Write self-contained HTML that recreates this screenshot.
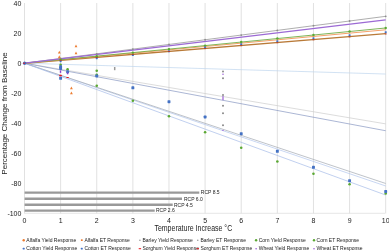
<!DOCTYPE html>
<html><head><meta charset="utf-8"><style>html,body{margin:0;padding:0;background:#fff;width:389px;height:252px;overflow:hidden}svg{display:block;will-change:transform}</style></head>
<body><svg width="389" height="252" viewBox="0 0 389 252">
<rect width="389" height="252" fill="#fff"/>
<line x1="24.50" y1="3" x2="24.50" y2="213.5" stroke="#dedede" stroke-width="0.9"/>
<line x1="60.62" y1="3" x2="60.62" y2="213.5" stroke="#dedede" stroke-width="0.9"/>
<line x1="96.74" y1="3" x2="96.74" y2="213.5" stroke="#dedede" stroke-width="0.9"/>
<line x1="132.86" y1="3" x2="132.86" y2="213.5" stroke="#dedede" stroke-width="0.9"/>
<line x1="168.98" y1="3" x2="168.98" y2="213.5" stroke="#dedede" stroke-width="0.9"/>
<line x1="205.10" y1="3" x2="205.10" y2="213.5" stroke="#dedede" stroke-width="0.9"/>
<line x1="241.22" y1="3" x2="241.22" y2="213.5" stroke="#dedede" stroke-width="0.9"/>
<line x1="277.34" y1="3" x2="277.34" y2="213.5" stroke="#dedede" stroke-width="0.9"/>
<line x1="313.46" y1="3" x2="313.46" y2="213.5" stroke="#dedede" stroke-width="0.9"/>
<line x1="349.58" y1="3" x2="349.58" y2="213.5" stroke="#dedede" stroke-width="0.9"/>
<line x1="385.70" y1="3" x2="385.70" y2="213.5" stroke="#dedede" stroke-width="0.9"/>
<line x1="24.5" y1="213.3" x2="385" y2="213.3" stroke="#e0e0e0" stroke-width="0.8"/>
<text x="21.4" y="5.60" text-anchor="end" font-size="7" fill="#1a1a1a" font-family="Liberation Sans, sans-serif">40</text>
<text x="21.4" y="35.60" text-anchor="end" font-size="7" fill="#1a1a1a" font-family="Liberation Sans, sans-serif">20</text>
<text x="21.4" y="65.60" text-anchor="end" font-size="7" fill="#1a1a1a" font-family="Liberation Sans, sans-serif">0</text>
<text x="21.4" y="95.60" text-anchor="end" font-size="7" fill="#1a1a1a" font-family="Liberation Sans, sans-serif">-20</text>
<text x="21.4" y="125.60" text-anchor="end" font-size="7" fill="#1a1a1a" font-family="Liberation Sans, sans-serif">-40</text>
<text x="21.4" y="155.60" text-anchor="end" font-size="7" fill="#1a1a1a" font-family="Liberation Sans, sans-serif">-60</text>
<text x="21.4" y="185.60" text-anchor="end" font-size="7" fill="#1a1a1a" font-family="Liberation Sans, sans-serif">-80</text>
<text x="21.4" y="215.60" text-anchor="end" font-size="7" fill="#1a1a1a" font-family="Liberation Sans, sans-serif">-100</text>
<text x="24.50" y="222.6" text-anchor="middle" font-size="7" fill="#1a1a1a" font-family="Liberation Sans, sans-serif">0</text>
<text x="60.62" y="222.6" text-anchor="middle" font-size="7" fill="#1a1a1a" font-family="Liberation Sans, sans-serif">1</text>
<text x="96.74" y="222.6" text-anchor="middle" font-size="7" fill="#1a1a1a" font-family="Liberation Sans, sans-serif">2</text>
<text x="132.86" y="222.6" text-anchor="middle" font-size="7" fill="#1a1a1a" font-family="Liberation Sans, sans-serif">3</text>
<text x="168.98" y="222.6" text-anchor="middle" font-size="7" fill="#1a1a1a" font-family="Liberation Sans, sans-serif">4</text>
<text x="205.10" y="222.6" text-anchor="middle" font-size="7" fill="#1a1a1a" font-family="Liberation Sans, sans-serif">5</text>
<text x="241.22" y="222.6" text-anchor="middle" font-size="7" fill="#1a1a1a" font-family="Liberation Sans, sans-serif">6</text>
<text x="277.34" y="222.6" text-anchor="middle" font-size="7" fill="#1a1a1a" font-family="Liberation Sans, sans-serif">7</text>
<text x="313.46" y="222.6" text-anchor="middle" font-size="7" fill="#1a1a1a" font-family="Liberation Sans, sans-serif">8</text>
<text x="349.58" y="222.6" text-anchor="middle" font-size="7" fill="#1a1a1a" font-family="Liberation Sans, sans-serif">9</text>
<text x="385.70" y="222.6" text-anchor="middle" font-size="7" fill="#1a1a1a" font-family="Liberation Sans, sans-serif">10</text>
<text transform="translate(154.4,230.7) scale(0.1)" font-size="84" textLength="778" lengthAdjust="spacingAndGlyphs" fill="#1a1a1a" font-family="Liberation Sans, sans-serif">Temperature Increase °C</text>
<text transform="translate(7.3,113.5) rotate(-90)" text-anchor="middle" font-size="8" fill="#1a1a1a" font-family="Liberation Sans, sans-serif">Percentage Change from Baseline</text>
<line x1="24.6" y1="192.6" x2="199.3" y2="192.6" stroke="#999" stroke-width="2.4"/>
<text x="200.8" y="194.40" font-size="5" fill="#1a1a1a" font-family="Liberation Sans, sans-serif">RCP 8.5</text>
<line x1="24.6" y1="198.8" x2="182" y2="198.8" stroke="#999" stroke-width="2.4"/>
<text x="184.0" y="200.60" font-size="5" fill="#1a1a1a" font-family="Liberation Sans, sans-serif">RCP 6.0</text>
<line x1="24.6" y1="204.7" x2="172.7" y2="204.7" stroke="#999" stroke-width="2.4"/>
<text x="174.0" y="206.50" font-size="5" fill="#1a1a1a" font-family="Liberation Sans, sans-serif">RCP 4.5</text>
<line x1="24.6" y1="210.6" x2="154.7" y2="210.6" stroke="#999" stroke-width="2.4"/>
<text x="156.0" y="212.40" font-size="5" fill="#1a1a1a" font-family="Liberation Sans, sans-serif">RCP 2.6</text>
<line x1="24.5" y1="63.2" x2="385.7" y2="74.04" stroke="#bfd5ee" stroke-width="0.7" opacity="1"/>
<line x1="24.5" y1="63.2" x2="385.7" y2="123.88" stroke="#cdcdcd" stroke-width="0.7" opacity="1"/>
<line x1="24.5" y1="63.2" x2="385.7" y2="130.74" stroke="#8797c2" stroke-width="0.7" opacity="1"/>
<line x1="24.5" y1="63.2" x2="385.7" y2="186.01" stroke="#b1c5ec" stroke-width="0.7" opacity="1"/>
<line x1="24.5" y1="63.2" x2="385.7" y2="183.48" stroke="#a4a9b2" stroke-width="0.7" opacity="1"/>
<line x1="24.5" y1="63.2" x2="385.7" y2="195.04" stroke="#a6bce8" stroke-width="0.7" opacity="1"/>
<line x1="24.5" y1="63.2" x2="385.7" y2="33.58" stroke="#b97a38" stroke-width="1.4" opacity="1"/>
<line x1="24.5" y1="63.2" x2="385.7" y2="29.79" stroke="#f39659" stroke-width="0.9" opacity="1"/>
<line x1="24.5" y1="63.2" x2="385.7" y2="27.98" stroke="#70ad47" stroke-width="0.9" opacity="1"/>
<line x1="24.5" y1="63.2" x2="385.7" y2="16.32" stroke="#a5a5a5" stroke-width="0.9" opacity="1"/>
<line x1="24.5" y1="63.2" x2="385.7" y2="19.86" stroke="#9c6ad4" stroke-width="1.3" opacity="1"/>
<circle cx="60.62" cy="58.51" r="0.9" fill="#8c8c8c"/>
<circle cx="60.62" cy="59.68" r="1.2" fill="#5aa832"/>
<rect x="59.62" y="60.21" width="2.0" height="2.0" rx="0.40" fill="#4472c4"/>
<rect x="59.72" y="59.77" width="1.8" height="1.0" fill="#c23a1e"/>
<circle cx="96.74" cy="53.82" r="0.9" fill="#8c8c8c"/>
<circle cx="96.74" cy="56.16" r="1.2" fill="#5aa832"/>
<rect x="95.74" y="57.25" width="2.0" height="2.0" rx="0.40" fill="#4472c4"/>
<rect x="95.84" y="56.85" width="1.8" height="1.0" fill="#c23a1e"/>
<circle cx="132.86" cy="49.13" r="0.9" fill="#8c8c8c"/>
<circle cx="132.86" cy="52.63" r="1.2" fill="#5aa832"/>
<rect x="131.86" y="54.10" width="2.0" height="2.0" rx="0.40" fill="#4472c4"/>
<rect x="131.96" y="53.92" width="1.8" height="1.0" fill="#c23a1e"/>
<circle cx="168.98" cy="44.45" r="0.9" fill="#8c8c8c"/>
<circle cx="168.98" cy="49.11" r="1.2" fill="#5aa832"/>
<rect x="167.98" y="50.35" width="2.0" height="2.0" rx="0.40" fill="#4472c4"/>
<rect x="168.08" y="51.00" width="1.8" height="1.0" fill="#c23a1e"/>
<circle cx="205.10" cy="39.76" r="0.9" fill="#8c8c8c"/>
<circle cx="205.10" cy="45.59" r="1.2" fill="#5aa832"/>
<rect x="204.10" y="46.45" width="2.0" height="2.0" rx="0.40" fill="#4472c4"/>
<rect x="204.20" y="48.07" width="1.8" height="1.0" fill="#c23a1e"/>
<circle cx="241.22" cy="35.07" r="0.9" fill="#8c8c8c"/>
<circle cx="241.22" cy="42.07" r="1.2" fill="#5aa832"/>
<rect x="240.22" y="43.30" width="2.0" height="2.0" rx="0.40" fill="#4472c4"/>
<rect x="240.32" y="45.15" width="1.8" height="1.0" fill="#c23a1e"/>
<circle cx="277.34" cy="30.38" r="0.9" fill="#8c8c8c"/>
<circle cx="277.34" cy="38.55" r="1.2" fill="#5aa832"/>
<rect x="276.34" y="40.15" width="2.0" height="2.0" rx="0.40" fill="#4472c4"/>
<rect x="276.44" y="42.22" width="1.8" height="1.0" fill="#c23a1e"/>
<circle cx="313.46" cy="25.69" r="0.9" fill="#8c8c8c"/>
<circle cx="313.46" cy="35.03" r="1.2" fill="#5aa832"/>
<rect x="312.46" y="37.15" width="2.0" height="2.0" rx="0.40" fill="#4472c4"/>
<rect x="312.56" y="39.29" width="1.8" height="1.0" fill="#c23a1e"/>
<circle cx="349.58" cy="21.00" r="0.9" fill="#8c8c8c"/>
<circle cx="349.58" cy="31.50" r="1.2" fill="#5aa832"/>
<rect x="348.58" y="34.15" width="2.0" height="2.0" rx="0.40" fill="#4472c4"/>
<rect x="348.68" y="36.37" width="1.8" height="1.0" fill="#c23a1e"/>
<circle cx="385.70" cy="16.32" r="0.9" fill="#8c8c8c"/>
<circle cx="385.70" cy="27.98" r="1.2" fill="#5aa832"/>
<rect x="384.70" y="31.15" width="2.0" height="2.0" rx="0.40" fill="#4472c4"/>
<rect x="384.80" y="33.44" width="1.8" height="1.0" fill="#c23a1e"/>
<circle cx="24.60" cy="63.20" r="1.7" fill="#4472c4"/>
<rect x="23.10" y="62.70" width="2.0" height="1.0" fill="#e8141a"/>
<circle cx="60.62" cy="64.75" r="1.3" fill="#5aa832"/>
<circle cx="67.60" cy="69.20" r="1.3" fill="#5aa832"/>
<circle cx="96.74" cy="70.70" r="1.3" fill="#5aa832"/>
<circle cx="96.74" cy="74.80" r="1.3" fill="#5aa832"/>
<circle cx="96.74" cy="85.70" r="1.3" fill="#5aa832"/>
<circle cx="132.86" cy="100.70" r="1.3" fill="#5aa832"/>
<circle cx="168.98" cy="116.30" r="1.3" fill="#5aa832"/>
<circle cx="205.10" cy="132.30" r="1.3" fill="#5aa832"/>
<circle cx="241.22" cy="147.70" r="1.3" fill="#5aa832"/>
<circle cx="277.34" cy="161.50" r="1.3" fill="#5aa832"/>
<circle cx="313.46" cy="173.80" r="1.3" fill="#5aa832"/>
<circle cx="349.58" cy="184.20" r="1.3" fill="#5aa832"/>
<circle cx="385.70" cy="193.50" r="1.3" fill="#5aa832"/>
<rect x="59.17" y="65.35" width="2.9" height="2.9" rx="0.58" fill="#4472c4"/>
<rect x="59.17" y="67.05" width="2.9" height="2.9" rx="0.58" fill="#4472c4"/>
<rect x="59.17" y="76.85" width="2.9" height="2.9" rx="0.58" fill="#4472c4"/>
<rect x="66.15" y="70.35" width="2.9" height="2.9" rx="0.58" fill="#4472c4"/>
<rect x="95.29" y="74.55" width="2.9" height="2.9" rx="0.58" fill="#4472c4"/>
<rect x="131.41" y="86.35" width="2.9" height="2.9" rx="0.58" fill="#4472c4"/>
<rect x="167.53" y="100.25" width="2.9" height="2.9" rx="0.58" fill="#4472c4"/>
<rect x="203.65" y="115.55" width="2.9" height="2.9" rx="0.58" fill="#4472c4"/>
<rect x="239.77" y="132.25" width="2.9" height="2.9" rx="0.58" fill="#4472c4"/>
<rect x="275.89" y="149.85" width="2.9" height="2.9" rx="0.58" fill="#4472c4"/>
<rect x="312.01" y="165.85" width="2.9" height="2.9" rx="0.58" fill="#4472c4"/>
<rect x="348.13" y="179.25" width="2.9" height="2.9" rx="0.58" fill="#4472c4"/>
<rect x="384.25" y="190.05" width="2.9" height="2.9" rx="0.58" fill="#4472c4"/>
<rect x="59.80" y="70.50" width="1.4" height="2.4" fill="#8a3fd0"/>
<rect x="66.90" y="72.50" width="1.4" height="1.8" fill="#8a3fd0"/>
<rect x="222.30" y="73.70" width="1.4" height="1.0" fill="#8a3fd0"/>
<rect x="222.50" y="96.20" width="1.0" height="4.0" fill="#8a3fd0"/>
<circle cx="223.00" cy="130.30" r="0.6" fill="#8a3fd0"/>
<rect x="59.20" y="74.80" width="2.6" height="1.4" fill="#e8141a"/>
<rect x="66.50" y="77.00" width="2.2" height="1.0" fill="#e8141a"/>
<rect x="113.95" y="67.00" width="1.5" height="3.2" fill="#999"/>
<circle cx="223.00" cy="71.50" r="1.0" fill="#8a8a8a"/>
<circle cx="223.00" cy="78.30" r="1.0" fill="#8a8a8a"/>
<circle cx="223.00" cy="95.00" r="1.0" fill="#8a8a8a"/>
<circle cx="223.00" cy="105.70" r="1.0" fill="#8a8a8a"/>
<circle cx="223.00" cy="113.20" r="1.0" fill="#8a8a8a"/>
<circle cx="223.00" cy="125.30" r="1.0" fill="#8a8a8a"/>
<path d="M57.90 53.60L59.30 50.80L60.70 53.60Z" fill="#ed7d31"/>
<path d="M57.90 58.15L59.30 55.35L60.70 58.15Z" fill="#ed7d31"/>
<path d="M74.60 47.30L76.00 44.50L77.40 47.30Z" fill="#ed7d31"/>
<path d="M74.60 54.20L76.00 51.40L77.40 54.20Z" fill="#ed7d31"/>
<path d="M70.00 89.30L71.40 86.50L72.80 89.30Z" fill="#ed7d31"/>
<path d="M70.00 94.30L71.40 91.50L72.80 94.30Z" fill="#ed7d31"/>
<circle cx="23.70" cy="240.20" r="1.2" fill="#ed7d31"/>
<text x="26.30" y="242.00" font-size="5" fill="#1a1a1a" font-family="Liberation Sans, sans-serif">Alfalfa Yield Response</text>
<rect x="80.90" y="239.30" width="1.8" height="1.8" rx="0.36" fill="#ed7d31"/>
<text x="84.40" y="242.00" font-size="5" fill="#1a1a1a" font-family="Liberation Sans, sans-serif">Alfalfa ET Response</text>
<circle cx="139.90" cy="240.20" r="0.7" fill="#8c8c8c"/>
<text x="142.50" y="242.00" font-size="5" fill="#1a1a1a" font-family="Liberation Sans, sans-serif">Barley Yield Response</text>
<circle cx="197.80" cy="240.20" r="0.7" fill="#8c8c8c"/>
<text x="200.40" y="242.00" font-size="5" fill="#1a1a1a" font-family="Liberation Sans, sans-serif">Barley ET Response</text>
<circle cx="256.10" cy="240.20" r="1.2" fill="#5aa832"/>
<text x="258.70" y="242.00" font-size="5" fill="#1a1a1a" font-family="Liberation Sans, sans-serif">Corn Yield Response</text>
<circle cx="314.00" cy="240.20" r="1.2" fill="#5aa832"/>
<text x="316.60" y="242.00" font-size="5" fill="#1a1a1a" font-family="Liberation Sans, sans-serif">Corn ET Response</text>
<rect x="22.80" y="247.80" width="1.8" height="1.8" rx="0.36" fill="#4472c4"/>
<text x="26.30" y="250.20" font-size="5" fill="#1a1a1a" font-family="Liberation Sans, sans-serif">Cotton Yield Response</text>
<rect x="80.90" y="247.80" width="1.8" height="1.8" rx="0.36" fill="#4472c4"/>
<text x="84.40" y="250.20" font-size="5" fill="#1a1a1a" font-family="Liberation Sans, sans-serif">Cotton ET Response</text>
<rect x="138.70" y="248.20" width="2.4" height="1.0" fill="#e8141a"/>
<text x="142.50" y="250.20" font-size="5" fill="#1a1a1a" font-family="Liberation Sans, sans-serif">Sorghum Yield Response</text>
<rect x="196.60" y="248.20" width="2.4" height="1.0" fill="#e8141a"/>
<text x="200.40" y="250.20" font-size="5" fill="#1a1a1a" font-family="Liberation Sans, sans-serif">Sorghum ET Response</text>
<circle cx="256.10" cy="248.70" r="0.7" fill="#8a3fd0"/>
<text x="258.70" y="250.20" font-size="5" fill="#1a1a1a" font-family="Liberation Sans, sans-serif">Wheat Yield Response</text>
<circle cx="314.00" cy="248.70" r="0.7" fill="#8a3fd0"/>
<text x="316.60" y="250.20" font-size="5" fill="#1a1a1a" font-family="Liberation Sans, sans-serif">Wheat ET Response</text>
</svg></body></html>
